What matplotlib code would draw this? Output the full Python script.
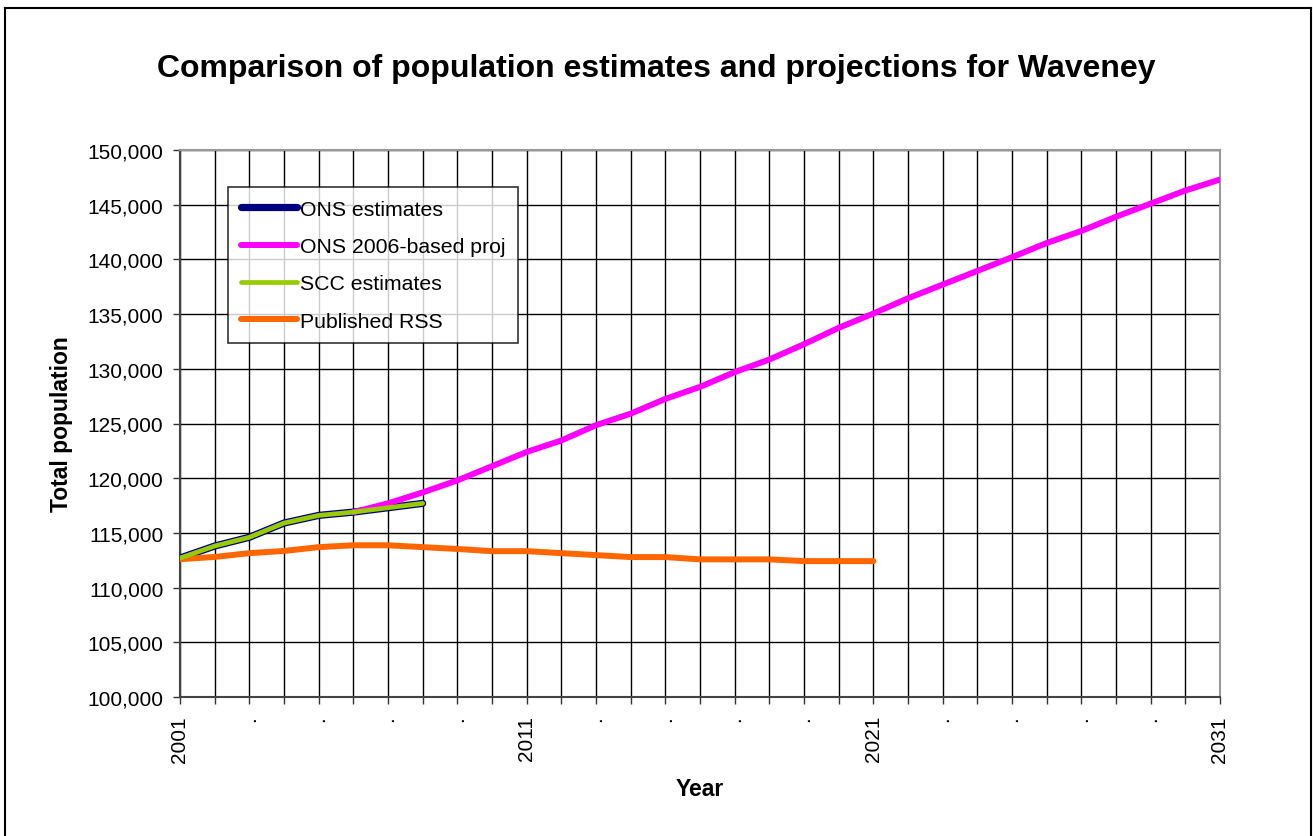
import matplotlib
matplotlib.use("Agg")
import matplotlib.pyplot as plt
from matplotlib.lines import Line2D

plt.rcParams['font.family'] = ['Liberation Sans', 'DejaVu Sans']

# Population series (Waveney)
est_years = [2001, 2002, 2003, 2004, 2005, 2006, 2007, 2008]
ons_estimates = [112700, 113800, 114600, 115900, 116600, 116900, 117300, 117700]
scc_estimates = [112700, 113800, 114600, 115900, 116600, 116900, 117300, 117700]

proj_years = list(range(2006, 2032))
ons_2006_proj = [116900, 117700, 118700, 119800, 121100, 122400, 123450, 124850,
                 125900, 127250, 128350, 129700, 130850, 132250, 133750, 135050,
                 136450, 137700, 138950, 140200, 141500, 142600, 143900, 145100,
                 146300, 147300]

rss_years = list(range(2001, 2022))
published_rss = [112600, 112800, 113150, 113350, 113700, 113870, 113870, 113700,
                 113530, 113330, 113330, 113150, 112970, 112790, 112790, 112580,
                 112580, 112580, 112420, 112420, 112420]

tick_years = list(range(2001, 2032, 2))
tick_labels = ["2001", ".", ".", ".", ".", "2011", ".", ".", ".", ".",
               "2021", ".", ".", ".", ".", "2031"]

W, H = 1313, 837
fig = plt.figure(figsize=(W / 100, H / 100), dpi=100)
fig.patch.set_facecolor("white")

# outer chart frame
for xs, ys in [((5, 5), (9, H + 5)), ((5, 1311), (9, 9)), ((1311, 1311), (9, H + 5))]:
    fig.add_artist(Line2D([x / W for x in xs], [1 - y / H for y in ys],
                          transform=fig.transFigure, color="black", lw=1.5))

left, right, top, bottom = 180, 1220, 151, 698
ax = fig.add_axes([left / W, 1 - bottom / H, (right - left) / W, (bottom - top) / H])

ax.plot(est_years, ons_estimates, color="#000080", lw=5.2, solid_capstyle="round",
        solid_joinstyle="round", label="ONS estimates", zorder=3)
ax.plot(proj_years, ons_2006_proj, color="#FF00FF", lw=4.3, solid_capstyle="round",
        solid_joinstyle="round", label="ONS 2006-based proj", zorder=3)
ax.plot(est_years, scc_estimates, color="#99CC00", lw=3.4, solid_capstyle="round",
        solid_joinstyle="round", label="SCC estimates", zorder=4)
ax.plot(rss_years, published_rss, color="#FF6600", lw=4.3, solid_capstyle="round",
        solid_joinstyle="round", label="Published RSS", zorder=3)

ax.set_xlim(2001, 2031)
ax.set_ylim(100000, 150000)
ax.set_yticks(range(100000, 150001, 5000))
ax.set_yticklabels([f"{v:,}" for v in range(100000, 150001, 5000)], fontsize=15)
ax.set_xticks(range(2001, 2032))
label_map = dict(zip(tick_years, tick_labels))
ax.set_xticklabels([label_map.get(y, "") for y in range(2001, 2032)],
                   rotation=90, fontsize=15, va="top")
ax.tick_params(axis="both", direction="out", length=5, width=1, color="#333333")
ax.tick_params(axis="x", pad=8)
ax.tick_params(axis="y", pad=7)

ax.grid(True, color="black", lw=1)
ax.set_axisbelow(True)
for side in ["left", "bottom"]:
    ax.spines[side].set_color("#444444")
    ax.spines[side].set_linewidth(1.5)
for side in ["right", "top"]:
    ax.spines[side].set_color("#999999")
    ax.spines[side].set_linewidth(1.5)

ax.set_ylabel("Total population", fontsize=16.5, fontweight="bold", labelpad=10)
ax.set_xlabel("Year", fontsize=16.5, fontweight="bold", labelpad=11)
fig.text(0.5, 1 - 69 / H, "Comparison of population estimates and projections for Waveney",
         ha="center", va="center", fontsize=23, fontweight="bold")

leg = ax.legend(loc="upper left", bbox_to_anchor=((228 - left) / (right - left), 1 - (188 - top) / (bottom - top)),
                fontsize=15.3, frameon=True, fancybox=False, edgecolor="black",
                borderpad=0.6, labelspacing=0.86, handlelength=2.65, handletextpad=0.12,
                borderaxespad=0)
leg.get_frame().set_linewidth(1.2)
leg.set_zorder(5)

fig.savefig("out.png", dpi=100, facecolor="white")
